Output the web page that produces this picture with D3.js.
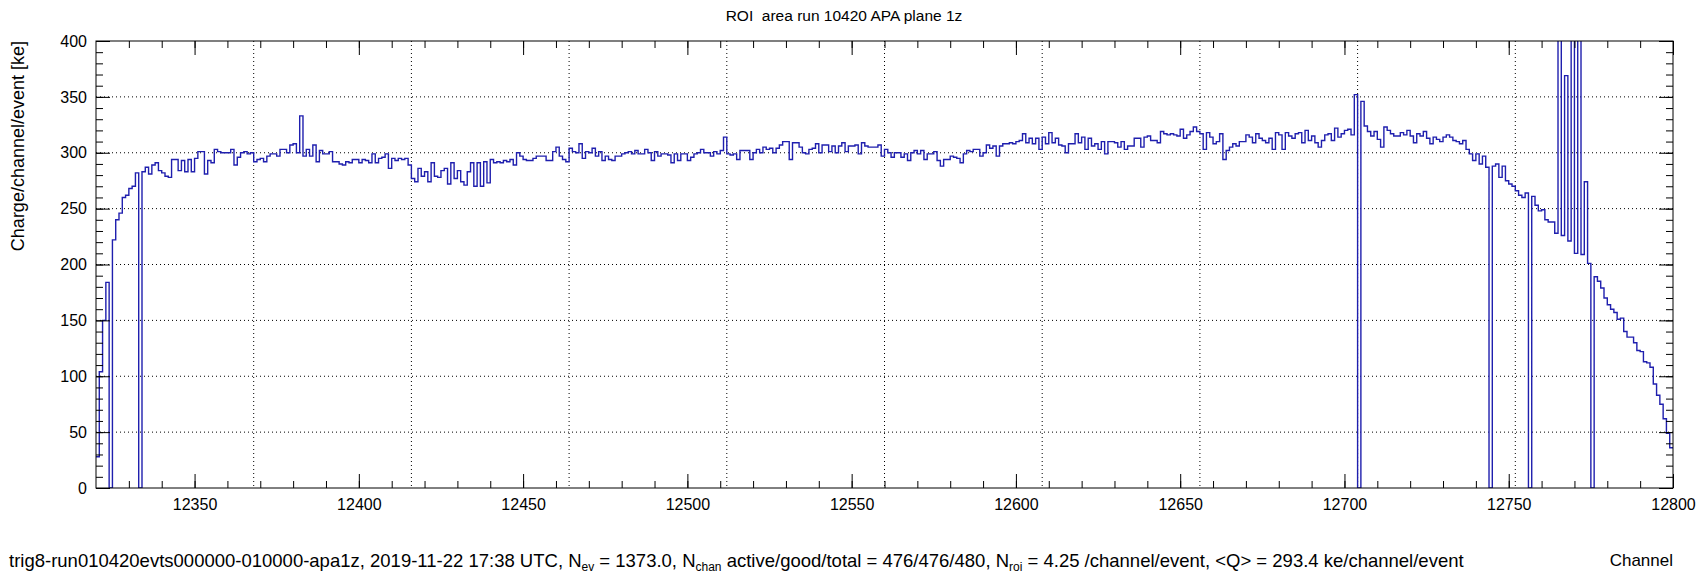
<!DOCTYPE html>
<html>
<head>
<meta charset="utf-8">
<title>ROI area run 10420 APA plane 1z</title>
<script src="https://d3js.org/d3.v7.min.js"></script>
<style>
  body { margin: 0; background: #fff; }
  text { font-family: "Liberation Sans", Arial, Helvetica, sans-serif; fill: #000; white-space: pre; }
  .grid line { stroke: #000; stroke-width: 1; stroke-dasharray: 1,3; }
  .axis path { display: none; }
  .axis line { stroke: #000; stroke-width: 1; }
  .axis text { font-size: 16px; }
</style>
</head>
<body>
<div id="chart"></div>
<script>
// histogram: one value per channel, starting at firstChannel (ke/channel/event)
var firstChannel = 12320;
var charge = [
  28, 104, 150, 184, 0, 222, 240, 246, 260, 262, 268, 270, 282, 0, 283, 287, 281, 289, 291, 284,
  282, 279, 278, 294, 294, 284, 293, 283, 294, 283, 295, 301, 301, 281, 293, 291, 303, 301, 300, 300,
  300, 303, 289, 296, 300, 301, 299, 300, 292, 294, 295, 292, 297, 299, 299, 297, 303, 303, 300, 307,
  308, 300, 333, 297, 303, 297, 307, 292, 302, 299, 299, 301, 292, 292, 290, 289, 292, 291, 294, 294,
  291, 294, 293, 291, 299, 291, 295, 296, 299, 286, 295, 293, 295, 294, 295, 289, 277, 274, 286, 279,
  283, 274, 291, 279, 278, 284, 286, 272, 291, 277, 284, 274, 271, 283, 291, 270, 291, 270, 292, 273,
  294, 291, 292, 291, 293, 292, 294, 289, 300, 297, 294, 293, 293, 295, 297, 297, 297, 293, 293, 301,
  305, 297, 294, 292, 304, 301, 300, 308, 295, 301, 300, 304, 297, 301, 293, 297, 294, 293, 297, 297,
  299, 300, 301, 299, 302, 299, 299, 303, 300, 293, 301, 297, 299, 299, 298, 291, 299, 293, 299, 299,
  293, 296, 299, 300, 303, 300, 300, 297, 301, 299, 302, 314, 299, 298, 299, 294, 302, 302, 302, 294,
  300, 303, 300, 305, 303, 304, 300, 304, 307, 310, 310, 294, 309, 309, 305, 300, 299, 303, 304, 308,
  300, 307, 307, 301, 306, 300, 306, 309, 301, 306, 306, 307, 299, 309, 306, 305, 305, 305, 307, 297,
  303, 300, 296, 300, 300, 296, 299, 293, 300, 302, 299, 302, 294, 299, 299, 301, 293, 288, 294, 294,
  297, 296, 295, 291, 299, 302, 301, 303, 303, 297, 300, 307, 304, 306, 297, 306, 308, 308, 309, 308,
  310, 311, 317, 309, 313, 308, 313, 303, 314, 308, 318, 309, 313, 307, 306, 300, 308, 308, 317, 309,
  314, 303, 313, 306, 308, 303, 310, 299, 310, 310, 309, 305, 310, 303, 306, 306, 313, 313, 305, 314,
  315, 311, 311, 309, 319, 317, 316, 317, 316, 315, 321, 313, 316, 319, 323, 319, 317, 303, 318, 314,
  308, 310, 317, 294, 302, 305, 308, 306, 310, 310, 316, 314, 309, 317, 313, 311, 309, 313, 303, 318,
  316, 303, 318, 315, 313, 317, 318, 309, 320, 311, 315, 309, 305, 311, 316, 317, 311, 322, 314, 317,
  320, 321, 316, 352, 0, 346, 324, 319, 315, 319, 312, 305, 323, 320, 317, 315, 315, 318, 316, 320,
  315, 309, 317, 315, 319, 313, 308, 314, 312, 310, 314, 316, 314, 311, 310, 308, 311, 303, 299, 293,
  299, 290, 297, 287, 0, 288, 290, 278, 288, 275, 272, 270, 266, 262, 260, 264, 0, 261, 253, 248,
  249, 240, 238, 238, 228, 480, 226, 369, 221, 520, 210, 450, 209, 274, 201, 0, 189, 185, 179, 170,
  164, 160, 157, 151, 152, 140, 135, 135, 130, 123, 122, 113, 112, 108, 93, 83, 75, 62, 49, 36
];
var xMajorTicks = [12350, 12400, 12450, 12500, 12550, 12600, 12650, 12700, 12750, 12800];
var yMajorTicks = [0, 50, 100, 150, 200, 250, 300, 350, 400];
var xGridChannels = [12368, 12416, 12464, 12512, 12560, 12608, 12656, 12704, 12752];
var yGridValues = [50, 100, 150, 200, 250, 300, 350];

var width = 1703, height = 573;
var margin = {left: 96, right: 30, top: 41, bottom: 85};
var plotW = width - margin.left - margin.right;
var plotH = height - margin.top - margin.bottom;

var svg = d3.select("#chart").append("svg")
  .attr("width", width)
  .attr("height", height)
  .style("background-color", "#fff");

var g = svg.append("g")
  .attr("transform", "translate(" + margin.left + "," + margin.top + ")");

var x = d3.scaleLinear().domain([firstChannel, firstChannel + charge.length]).range([0, plotW]);
var y = d3.scaleLinear().domain([0, 400]).range([plotH, 0]);

// grid
g.append("g").attr("class", "grid")
  .selectAll("line").data(yGridValues).enter().append("line")
  .attr("x1", 0).attr("x2", plotW)
  .attr("y1", function(d){ return y(d); }).attr("y2", function(d){ return y(d); });
g.append("g").attr("class", "grid")
  .selectAll("line").data(xGridChannels).enter().append("line")
  .attr("y1", 0).attr("y2", plotH)
  .attr("x1", function(d){ return x(d); }).attr("x2", function(d){ return x(d); });

// histogram
svg.append("clipPath").attr("id", "frameClip")
  .append("rect").attr("x", 0).attr("y", 0).attr("width", plotW).attr("height", plotH);

var steps = [];
charge.forEach(function(v, i){
  steps.push([firstChannel + i, v]);
  steps.push([firstChannel + i + 1, v]);
});
var line = d3.line()
  .x(function(d){ return x(d[0]); })
  .y(function(d){ return y(d[1]); });

g.append("path")
  .datum(steps)
  .attr("clip-path", "url(#frameClip)")
  .attr("fill", "none")
  .attr("stroke", "#1f1fae")
  .attr("stroke-width", 1.4)
  .attr("d", line);

// axes: minor ticks every 10 on x, every 10 on y
var xMinor = d3.range(firstChannel + 10, firstChannel + charge.length, 10);
var yMinor = d3.range(10, 400, 10);

g.append("g").attr("class", "axis").attr("transform", "translate(0," + plotH + ")")
  .call(d3.axisBottom(x).tickValues(xMinor).tickSize(-7).tickFormat(""));
g.append("g").attr("class", "axis").attr("transform", "translate(0," + plotH + ")")
  .call(d3.axisBottom(x).tickValues(xMajorTicks).tickSize(-14).tickPadding(11).tickFormat(d3.format("d")));
g.append("g").attr("class", "axis")
  .call(d3.axisTop(x).tickValues(xMinor).tickSize(-7).tickFormat(""));
g.append("g").attr("class", "axis")
  .call(d3.axisTop(x).tickValues(xMajorTicks).tickSize(-14).tickFormat(""));

g.append("g").attr("class", "axis")
  .call(d3.axisLeft(y).tickValues(yMinor).tickSize(-7).tickFormat(""));
g.append("g").attr("class", "axis")
  .call(d3.axisLeft(y).tickValues(yMajorTicks).tickSize(-14).tickPadding(9).tickFormat(d3.format("d")));
g.append("g").attr("class", "axis").attr("transform", "translate(" + plotW + ",0)")
  .call(d3.axisRight(y).tickValues(yMinor).tickSize(-7).tickFormat(""));
g.append("g").attr("class", "axis").attr("transform", "translate(" + plotW + ",0)")
  .call(d3.axisRight(y).tickValues(yMajorTicks).tickSize(-14).tickFormat(""));

// frame
g.append("rect")
  .attr("width", plotW).attr("height", plotH)
  .attr("fill", "none").attr("stroke", "#000").attr("stroke-width", 1);

// titles
svg.append("text")
  .attr("x", 844).attr("y", 21)
  .attr("text-anchor", "middle")
  .style("font-size", "15.5px")
  .text("ROI  area run 10420 APA plane 1z");

svg.append("text")
  .attr("transform", "translate(24," + margin.top + ") rotate(-90)")
  .attr("text-anchor", "end")
  .style("font-size", "18px")
  .text("Charge/channel/event [ke]");

svg.append("text")
  .attr("x", margin.left + plotW).attr("y", 566)
  .attr("text-anchor", "end")
  .style("font-size", "17px")
  .text("Channel");

var foot = svg.append("text")
  .attr("x", 9).attr("y", 567)
  .style("font-size", "18.5px");
var footParts = [
  ["trig8-run010420evts000000-010000-apa1z, 2019-11-22 17:38 UTC, N", false],
  ["ev", true],
  [" = 1373.0, N", false],
  ["chan", true],
  [" active/good/total = 476/476/480, N", false],
  ["roi", true],
  [" = 4.25 /channel/event, <Q> = 293.4 ke/channel/event", false]
];
footParts.forEach(function(p, i){
  var prevSub = i > 0 && footParts[i - 1][1];
  foot.append("tspan")
    .attr("dy", p[1] ? 4 : (prevSub ? -4 : 0))
    .style("font-size", p[1] ? "12px" : "18.5px")
    .text(p[0]);
});
</script>
</body>
</html>
